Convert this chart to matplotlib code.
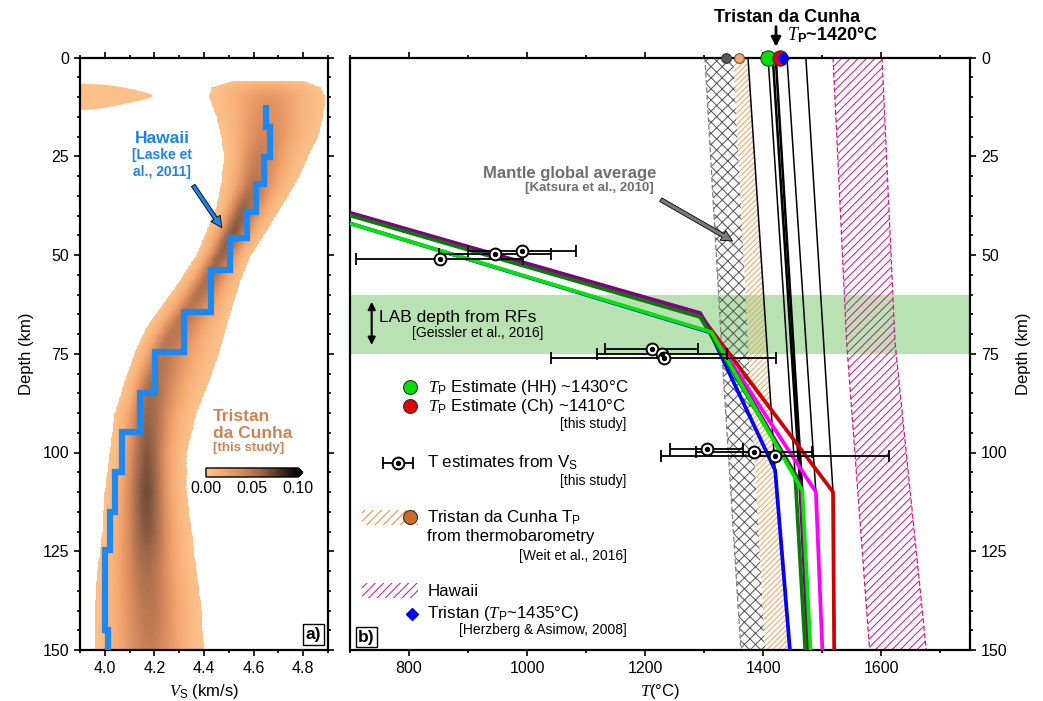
import numpy as np
import matplotlib
matplotlib.use('Agg')
import matplotlib.pyplot as plt
from matplotlib.colors import LinearSegmentedColormap
from matplotlib.patches import Rectangle
from matplotlib.ticker import MultipleLocator

plt.rcParams['font.family'] = ['Liberation Sans', 'DejaVu Sans']
plt.rcParams['mathtext.fontset'] = 'custom'
plt.rcParams['mathtext.it'] = 'Liberation Serif:italic'
plt.rcParams['mathtext.rm'] = 'Liberation Sans'
plt.rcParams['mathtext.bf'] = 'Liberation Sans:bold'
plt.rcParams['hatch.linewidth'] = 0.75

# ---------------- panel a) : Vs probability cloud (Tristan) ----------------
dens_depth  = [5.8, 7.5, 10, 15, 20, 25, 32, 38, 44, 50, 56, 62, 68, 75, 82, 90, 100, 110, 120, 130, 140, 150]
dens_center = [4.66, 4.66, 4.66, 4.65, 4.64, 4.62, 4.60, 4.56, 4.52, 4.47, 4.42, 4.36, 4.29, 4.23, 4.19, 4.17, 4.17, 4.17, 4.17, 4.17, 4.18, 4.18]
dens_low    = [4.52, 4.43, 4.42, 4.45, 4.47, 4.48, 4.47, 4.45, 4.41, 4.37, 4.31, 4.24, 4.17, 4.12, 4.08, 4.04, 4.02, 4.00, 3.99, 3.97, 3.96, 3.96]
dens_high   = [4.80, 4.87, 4.89, 4.88, 4.86, 4.82, 4.77, 4.71, 4.65, 4.59, 4.55, 4.52, 4.49, 4.46, 4.42, 4.37, 4.33, 4.33, 4.35, 4.37, 4.39, 4.40]
dens_peak   = [0.004, 0.02, 0.03, 0.035, 0.04, 0.045, 0.05, 0.06, 0.065, 0.06, 0.055, 0.05, 0.05, 0.05, 0.055, 0.06, 0.065, 0.07, 0.065, 0.055, 0.05, 0.045]

# shallow low-velocity blob at the left edge
blob_vs  = [3.90, 3.95, 4.00, 4.05, 4.10, 4.15, 4.19]
blob_top = [6.5, 6.6, 6.8, 7.2, 7.8, 8.5, 9.3]
blob_bot = [13.2, 13.0, 12.6, 12.0, 11.3, 10.6, 9.9]

# Hawaii Vs model (Laske et al., 2011), layer tops
hawaii_vs  = [4.651, 4.665, 4.643, 4.611, 4.573, 4.506, 4.43, 4.32, 4.203, 4.142, 4.068, 4.041, 4.021, 4.001, 4.014]
hawaii_top = [12, 17.5, 25.1, 31.9, 39.1, 45.8, 53.8, 64.5, 74.6, 85, 94.8, 104.9, 115, 124.8, 145]

# ---------------- panel b) : temperature ----------------
lab_depth = [60, 75]

katsura_d  = [0, 75, 150]
katsura_lo = [1301, 1330, 1362]
katsura_hi = [1349, 1375, 1403]

thermo_d  = [0, 75, 150]
thermo_lo = [1349, 1375, 1403]
thermo_hi = [1374, 1406, 1442]

hawaii_band_d  = [0, 72, 150]
hawaii_band_lo = [1518, 1541, 1580]
hawaii_band_hi = [1601, 1623, 1676]

# geotherms (T, depth)
geo_red_T,     geo_red_d     = [700, 1293, 1518, 1520], [39.5, 65.2, 110.0, 150]
geo_magenta_T, geo_magenta_d = [700, 1293, 1489, 1500], [39.5, 65.2, 110.0, 150]
geo_blue_T,    geo_blue_d    = [700, 1310, 1420, 1445], [42.0, 69.6, 104.5, 150]
geo_purple_T,  geo_purple_d  = [700, 1293, 1462, 1476], [39.3, 64.7, 107.5, 150]
geo_dkgreen_T, geo_dkgreen_d = [700, 1293, 1454, 1471], [40.0, 65.7, 106.0, 150]
geo_ltgreen_T, geo_ltgreen_d = [700, 1312, 1466, 1480], [42.0, 69.5, 109.6, 150]

# adiabats from surface Tp down to the geotherm kinks
adiabat_tp    = [1374, 1408, 1416, 1421, 1440, 1472]
adiabat_end_T = [1420, 1454, 1462, 1466, 1489, 1518]
adiabat_end_d = [104.5, 106.0, 107.5, 109.6, 110.0, 110.0]
adiabat_lw    = [1.1, 1.1, 1.8, 1.8, 1.1, 1.1]

# T estimates from Vs
est_T   = [852, 946, 991, 1211, 1229, 1231, 1304, 1384, 1419]
est_d   = [51.0, 49.8, 48.9, 73.8, 75.0, 76.2, 99.0, 99.9, 101.0]
est_err = [141, 95, 92, 79, 110, 190, 62, 98, 193]

# surface potential temperatures
tp_katsura = 1336
tp_weit = 1359
tp_hh = 1408
tp_ch = 1428
tp_herzberg = 1434

fig = plt.figure(figsize=(10.43, 7.01), dpi=100)
ax1 = fig.add_axes([80/1043, 1-650/701, 248/1043, 592.5/701])
ax2 = fig.add_axes([350/1043, 1-650/701, 620/1043, 592.5/701])

# ---- panel a
cmap = LinearSegmentedColormap.from_list(
    'tdc', ['#fdc48c', '#f3a66e', '#d4875b', '#9c6648', '#4a3025', '#000000'])

vs_grid = np.linspace(3.9, 4.9, 401)
dep_grid = np.linspace(0, 150, 601)
c = np.interp(dep_grid, dens_depth, dens_center)
lo = np.interp(dep_grid, dens_depth, dens_low)
hi = np.interp(dep_grid, dens_depth, dens_high)
pk = np.interp(dep_grid, dens_depth, dens_peak)
thr = 0.0025
k = np.sqrt(2*np.log(pk/thr))
V = vs_grid[None, :]
C = c[:, None]
sig = np.where(V < C, ((c-lo)/k)[:, None], ((hi-c)/k)[:, None])
Z = pk[:, None]*np.exp(-0.5*((V-C)/sig)**2)
Z[dep_grid < dens_depth[0], :] = 0
Z = np.ma.masked_less(Z, thr)
mesh = ax1.pcolormesh(vs_grid, dep_grid, Z, cmap=cmap, vmin=0, vmax=0.1,
                      shading='nearest', rasterized=True, zorder=1)
ax1.fill_between(blob_vs, blob_top, blob_bot, color='#fcc088', lw=0, zorder=1)

hb = hawaii_top[1:] + [150]
ax1.plot(np.repeat(hawaii_vs, 2), np.column_stack([hawaii_top, hb]).ravel(),
         color='#1e88ee', lw=4.5, solid_capstyle='butt', solid_joinstyle='miter', zorder=3)

blue_txt = '#1e82eb'
ax1.text(0.4435, 0.864, 'Hawaii', transform=ax1.transAxes, ha='right', va='center',
         color=blue_txt, fontsize=12.5, fontweight='bold')
ax1.text(0.45, 0.835, '[Laske et', transform=ax1.transAxes, ha='right', va='center',
         color=blue_txt, fontsize=10, fontweight='bold')
ax1.text(0.448, 0.807, 'al., 2011]', transform=ax1.transAxes, ha='right', va='center',
         color=blue_txt, fontsize=10, fontweight='bold')
ax1.annotate('', xy=(0.578, 0.709), xytext=(0.45, 0.788), xycoords='axes fraction',
             arrowprops=dict(arrowstyle='simple,head_length=0.8,head_width=0.8,tail_width=0.3',
                             fc=blue_txt, ec='black', lw=0.6), zorder=6)

tc = '#cd8455'
ax1.text(0.536, 0.394, 'Tristan', transform=ax1.transAxes, ha='left', va='center',
         color=tc, fontsize=12.5, fontweight='bold')
ax1.text(0.536, 0.365, 'da Cunha', transform=ax1.transAxes, ha='left', va='center',
         color=tc, fontsize=12.5, fontweight='bold')
ax1.text(0.536, 0.341, '[this study]', transform=ax1.transAxes, ha='left', va='center',
         color=tc, fontsize=9.5, fontweight='bold')

cax = ax1.inset_axes([0.508, 0.292, 0.39, 0.0152])
cb = fig.colorbar(mesh, cax=cax, orientation='horizontal', extend='max',
                  ticks=[0, 0.05, 0.10], format='%.2f')
cb.outline.set_linewidth(1)
cax.tick_params(length=0, labelsize=11.5, pad=3)

ax1.text(0.9415, 0.0262, 'a)', transform=ax1.transAxes, ha='center', va='center',
         fontsize=12.5, fontweight='bold',
         bbox=dict(boxstyle='square,pad=0.15', fc='white', ec='black', lw=1))

ax1.set_xlim(3.9, 4.9)
ax1.set_ylim(150, 0)
ax1.set_xticks([4.0, 4.2, 4.4, 4.6, 4.8])
ax1.set_xticklabels(['4.0', '4.2', '4.4', '4.6', '4.8'])
ax1.xaxis.set_minor_locator(MultipleLocator(0.1))
ax1.yaxis.set_major_locator(MultipleLocator(25))
ax1.yaxis.set_minor_locator(MultipleLocator(5))
ax1.tick_params(which='both', direction='out', top=True, right=True, labelsize=11.5, width=1.2)
ax1.tick_params(which='major', length=4.5)
ax1.tick_params(which='minor', length=2.5)
ax1.set_xlabel(r'$V_\mathrm{S}$ (km/s)', fontsize=12, labelpad=4)
ax1.set_ylabel('Depth (km)', fontsize=12, labelpad=6)

# ---- panel b
ax2.axhspan(lab_depth[0], lab_depth[1], color='#b8e2b1', lw=0, zorder=0)
ax2.fill_betweenx(katsura_d, katsura_lo, katsura_hi, facecolor='none', edgecolor='#5c5c5c',
                  hatch='xxx', lw=0, zorder=1)
ax2.plot(katsura_lo, katsura_d, color='#808080', lw=0.9, ls=(0, (4, 2)), zorder=1)
ax2.fill_betweenx(thermo_d, thermo_lo, thermo_hi, facecolor='none', edgecolor='#f5a462',
                  hatch='//////', lw=0, zorder=1)
ax2.fill_betweenx(hawaii_band_d, hawaii_band_lo, hawaii_band_hi, facecolor='none',
                  edgecolor='#c8208f', hatch='////', lw=0, zorder=1)
ax2.plot(hawaii_band_lo, hawaii_band_d, color='#c8208f', lw=0.9, ls=(0, (4, 2)), zorder=1)
ax2.plot(hawaii_band_hi, hawaii_band_d, color='#c8208f', lw=0.9, ls=(0, (4, 2)), zorder=1)

for tp, te, de, lw in zip(adiabat_tp, adiabat_end_T, adiabat_end_d, adiabat_lw):
    ax2.plot([tp, te], [0, de], color='black', lw=lw, zorder=3)

for T, d, col in [(geo_red_T, geo_red_d, '#cc0000'),
                  (geo_magenta_T, geo_magenta_d, '#ff00ff'),
                  (geo_blue_T, geo_blue_d, '#0000ff'),
                  (geo_purple_T, geo_purple_d, '#7f007f'),
                  (geo_dkgreen_T, geo_dkgreen_d, '#0a7a0a'),
                  (geo_ltgreen_T, geo_ltgreen_d, '#00e600')]:
    ax2.plot(T, d, color=col, lw=2.7, zorder=4, solid_joinstyle='miter')

ax2.errorbar(est_T, est_d, xerr=est_err, fmt='none', ecolor='black', elinewidth=1.3,
             capsize=4, capthick=1.3, zorder=6)
ax2.plot(est_T, est_d, 'o', ms=8.5, mfc='white', mec='black', mew=1.4, zorder=7)
ax2.plot(est_T, est_d, 'o', ms=2.8, color='black', zorder=8)

# surface Tp markers
ax2.plot([tp_katsura], [0], 'o', ms=7, mfc='#585858', mec='#333333', mew=0.8, clip_on=False, zorder=10)
ax2.plot([tp_weit], [0], 'o', ms=7, mfc='#f6a96b', mec='#555555', mew=0.8, clip_on=False, zorder=10)
ax2.plot([tp_hh], [0], 'o', ms=11, mfc='#00e000', mec='#333333', mew=0.8, clip_on=False, zorder=10)
ax2.plot([tp_ch], [0], 'o', ms=11, mfc='#e00000', mec='#333333', mew=0.8, clip_on=False, zorder=11)
ax2.plot([tp_herzberg], [0], 'D', ms=6, mfc='#0000ff', mec='#0000ff', clip_on=False, zorder=12)

# top label
ax2.text(0.7048, 1.068, 'Tristan da Cunha', transform=ax2.transAxes, ha='center', va='center',
         fontsize=13, fontweight='bold')
ax2.text(0.7048, 1.037, r'$T_\mathbf{P}$~1420°C', transform=ax2.transAxes, ha='left', va='center',
         fontsize=13, fontweight='bold')
ax2.annotate('', xy=(0.6871, 1.0177), xytext=(0.6871, 1.052), xycoords='axes fraction',
             arrowprops=dict(arrowstyle='-|>', color='black', lw=2, mutation_scale=14,
                             shrinkA=0, shrinkB=0), annotation_clip=False)

# Katsura label
gray_txt = '#6e6e6e'
ax2.text(0.4947, 0.805, 'Mantle global average', transform=ax2.transAxes, ha='right',
         va='center', color=gray_txt, fontsize=12, fontweight='bold')
ax2.text(0.4903, 0.7797, '[Katsura et al., 2010]', transform=ax2.transAxes, ha='right',
         va='center', color=gray_txt, fontsize=9.5, fontweight='bold')
ax2.annotate('', xy=(0.621, 0.688), xytext=(0.4973, 0.7624), xycoords='axes fraction',
             arrowprops=dict(arrowstyle='simple,head_length=0.8,head_width=0.8,tail_width=0.3',
                             fc='#7a7a7a', ec='black', lw=0.6), zorder=6)

# LAB label
ax2.text(0.0468, 0.562, 'LAB depth from RFs', transform=ax2.transAxes, ha='left',
         va='center', fontsize=12.5)
ax2.text(0.3113, 0.535, '[Geissler et al., 2016]', transform=ax2.transAxes, ha='right',
         va='center', fontsize=10)
ax2.annotate('', xy=(0.035, 0.5148), xytext=(0.035, 0.5878), xycoords='axes fraction',
             arrowprops=dict(arrowstyle='<|-|>', color='black', lw=1.5, mutation_scale=11,
                             shrinkA=0, shrinkB=0))

# manual legend
lt = ax2.transAxes
fs = 12.2
ax2.plot([0.0968], [0.4434], 'o', ms=10, mfc='#00e000', mec='#333333', mew=0.8, transform=lt)
ax2.text(0.1263, 0.4434, r'$T_\mathrm{P}$ Estimate (HH) ~1430°C', transform=lt, va='center', fontsize=fs)
ax2.plot([0.0968], [0.4118], 'o', ms=10, mfc='#e00000', mec='#333333', mew=0.8, transform=lt)
ax2.text(0.1263, 0.4118, r'$T_\mathrm{P}$ Estimate (Ch) ~1410°C', transform=lt, va='center', fontsize=fs)
ax2.text(0.4463, 0.3814, '[this study]', transform=lt, ha='right', va='center', fontsize=10)

ax2.plot([0.0537, 0.1021], [0.3151, 0.3151], color='black', lw=1.3, transform=lt)
ax2.plot([0.0537, 0.1021], [0.3151, 0.3151], '|', color='black', ms=9, mew=1.3, transform=lt)
ax2.plot([0.0779], [0.3151], 'o', ms=8.5, mfc='white', mec='black', mew=1.4, transform=lt)
ax2.plot([0.0779], [0.3151], 'o', ms=2.8, color='black', transform=lt)
ax2.text(0.1247, 0.3156, r'T estimates from V$_\mathrm{S}$', transform=lt, va='center', fontsize=fs)
ax2.text(0.4463, 0.2857, '[this study]', transform=lt, ha='right', va='center', fontsize=10)

ax2.add_patch(Rectangle((0.0189, 0.211), 0.0913, 0.0253, transform=lt, facecolor='none',
                        edgecolor='#f08a3c', hatch='////', lw=0))
ax2.plot([0.0968], [0.224], 'o', ms=10, mfc='#d2692a', mec='#333333', mew=0.8, transform=lt)
ax2.text(0.1247, 0.2223, r'Tristan da Cunha T$_\mathrm{P}$', transform=lt, va='center', fontsize=fs)
ax2.text(0.1247, 0.1912, 'from thermobarometry', transform=lt, va='center', fontsize=fs)
ax2.text(0.4463, 0.1586, '[Weit et al., 2016]', transform=lt, ha='right', va='center', fontsize=10)

ax2.add_patch(Rectangle((0.0189, 0.0878), 0.0913, 0.0253, transform=lt, facecolor='none',
                        edgecolor='#c8208f', hatch='////', lw=0))
ax2.text(0.1247, 0.0984, 'Hawaii', transform=lt, va='center', fontsize=fs)
ax2.plot([0.0995], [0.0611], 'D', ms=6.5, mfc='#0000ff', mec='#0000ff', transform=lt)
ax2.text(0.1247, 0.0611, r'Tristan ($T_\mathrm{P}$~1435°C)', transform=lt, va='center', fontsize=fs)
ax2.text(0.4463, 0.0335, '[Herzberg & Asimow, 2008]', transform=lt, ha='right', va='center', fontsize=10)

ax2.text(0.0266, 0.0219, 'b)', transform=lt, ha='center', va='center',
         fontsize=12.5, fontweight='bold',
         bbox=dict(boxstyle='square,pad=0.15', fc='white', ec='black', lw=1))

ax2.set_xlim(700, 1750)
ax2.set_ylim(150, 0)
ax2.set_xticks([800, 1000, 1200, 1400, 1600])
ax2.xaxis.set_minor_locator(MultipleLocator(100))
ax2.yaxis.set_major_locator(MultipleLocator(25))
ax2.yaxis.set_minor_locator(MultipleLocator(5))
ax2.yaxis.set_label_position('right')
ax2.yaxis.tick_right()
ax2.tick_params(which='both', direction='out', top=True, right=True, left=False,
                labelleft=False, labelright=True, labelsize=11.5, width=1.2)
ax2.tick_params(which='major', length=4.5)
ax2.tick_params(which='minor', length=2.5)
ax2.set_xlabel(r'$T$(°C)', fontsize=12, labelpad=4)
ax2.set_ylabel('Depth (km)', fontsize=12, labelpad=6)

for ax in (ax1, ax2):
    for s in ax.spines.values():
        s.set_linewidth(1.6)

fig.savefig('out.png', dpi=100)
